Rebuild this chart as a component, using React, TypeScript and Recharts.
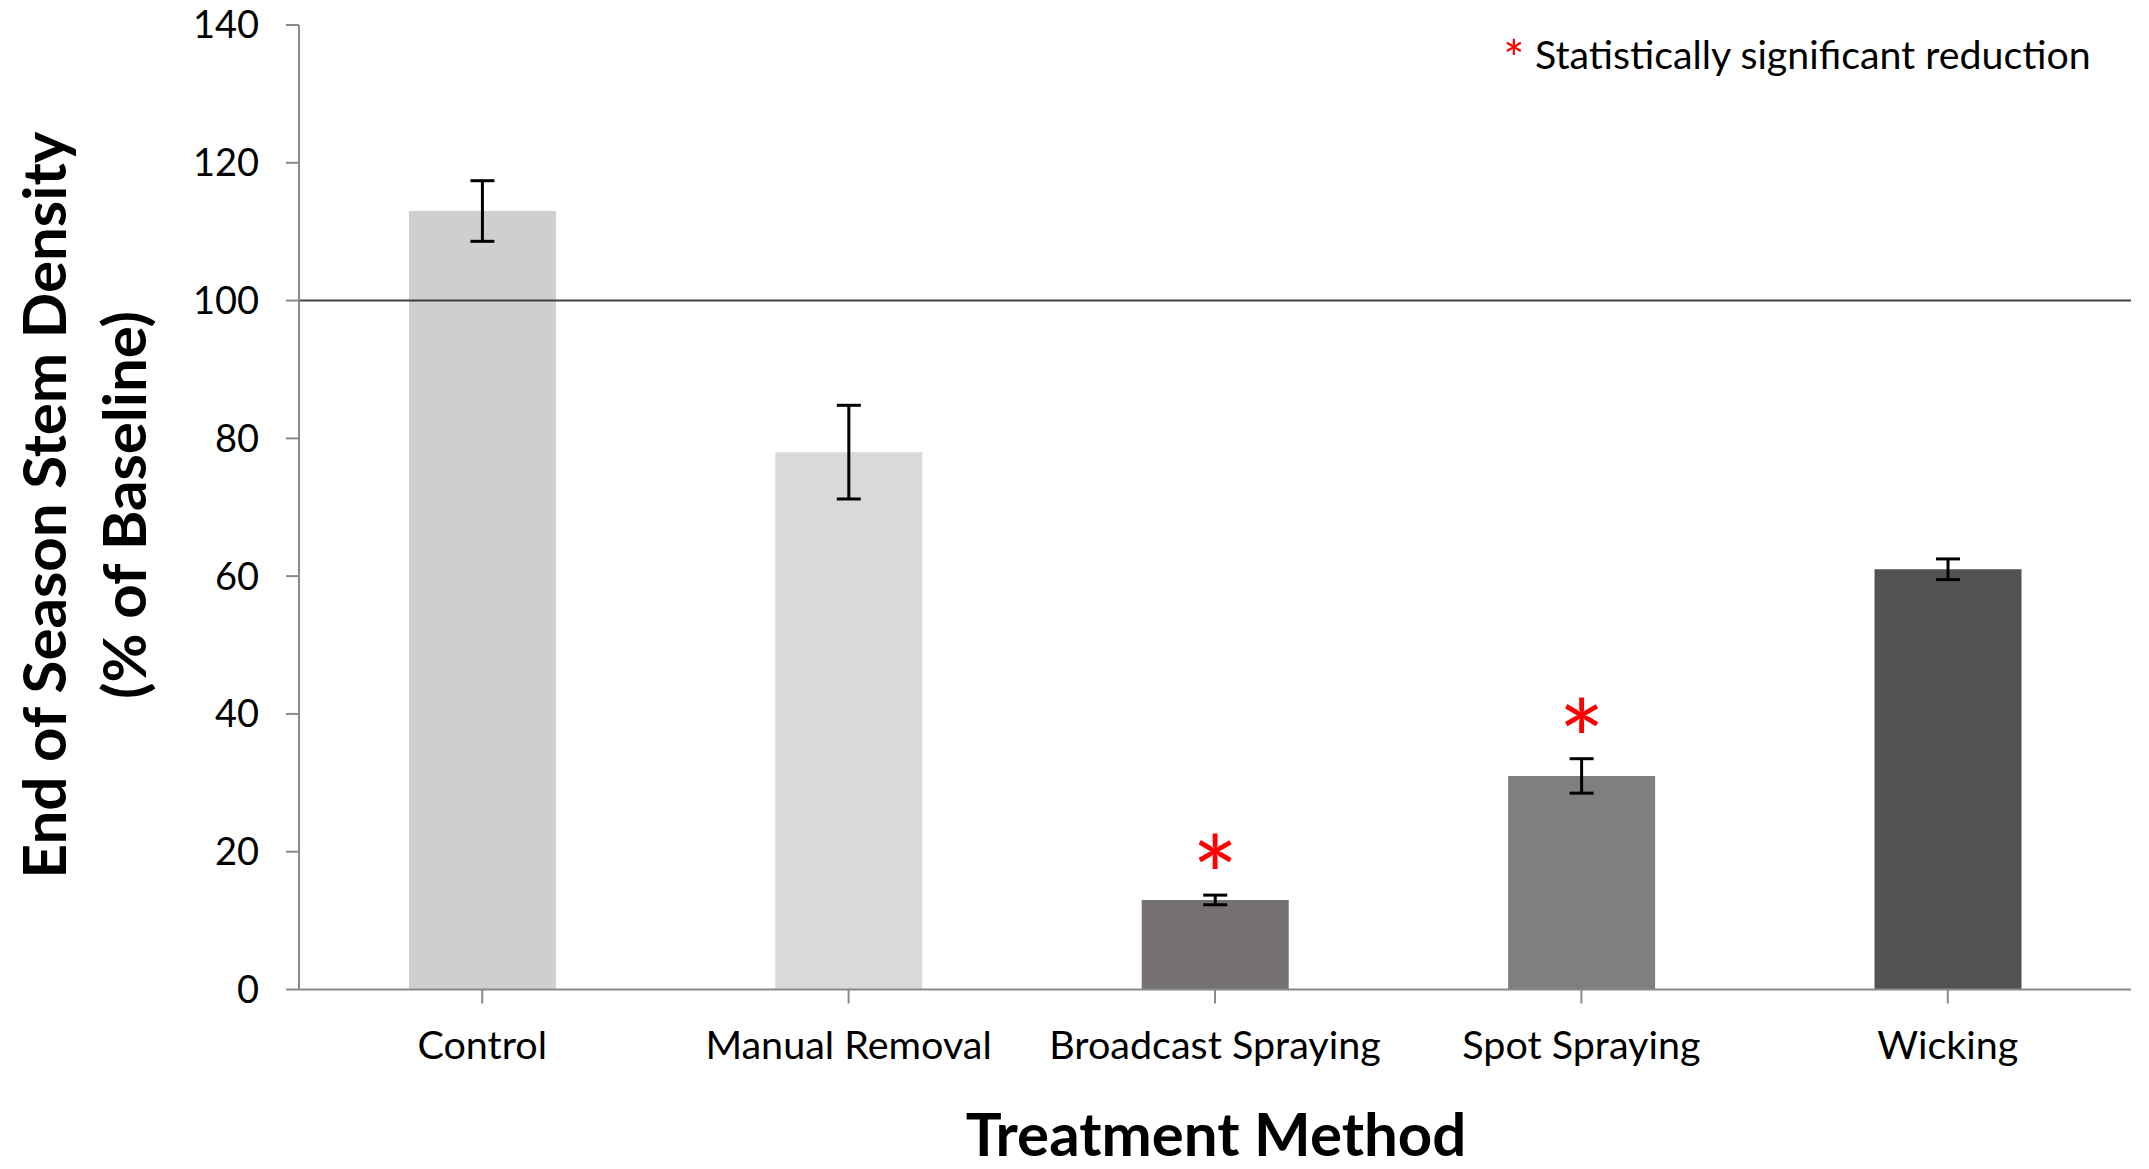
import React from 'react';
import { BarChart, Bar, XAxis, YAxis, Cell, ErrorBar, ReferenceLine, LabelList, Label } from 'recharts';

const categories = ['Control', 'Manual Removal', 'Broadcast Spraying', 'Spot Spraying', 'Wicking'];
const values = [113, 78, 13, 31, 61];
const errors = [4.4, 6.8, 0.7, 2.5, 1.5];
const significant = [false, false, true, true, false];
const barColors = ['#D0CECE', '#D9D9D9', '#767171', '#7F7F7F', '#525252'];
const yTicks = [0, 20, 40, 60, 80, 100, 120, 140];

const data = categories.map((name, i) => ({ name, value: values[i], err: errors[i], sig: significant[i] }));

const FONT = 'Lato, "Open Sans", sans-serif';
const AXIS_GRAY = '#8a8a8a';

const SigLabel = (props: any) => {
  const { x, y, width, height, index } = props;
  if (!significant[index]) return null;
  const pxPerUnit = height / values[index];
  const errTop = y - errors[index] * pxPerUnit;
  return (
    <text x={x + width / 2} y={errTop + 22} textAnchor="middle" fill="#FF0000" fontSize={110} fontFamily={FONT}>*</text>
  );
};

const Titles = () => (
  <g fontFamily={FONT}>
    <text x={66} y={505} transform="rotate(-90, 66, 505)" textAnchor="middle" fontSize={60} fontWeight={700} fill="#000">End of Season Stem Density</text>
    <text x={146} y={505} transform="rotate(-90, 146, 505)" textAnchor="middle" fontSize={60} fontWeight={700} fill="#000">(% of Baseline)</text>
    <text x={1216} y={1156} textAnchor="middle" fontSize={60} fontWeight={700} fill="#000">Treatment Method</text>
    <text x={1514} y={77} textAnchor="middle" fontSize={50} fill="#FF0000">*</text>
    <text x={1535} y={69} fontSize={39.3} fill="#000">Statistically significant reduction</text>
  </g>
);

export default function App() {
  return (
    <div style={{ position: 'fixed', left: 0, top: 0, width: 2149, height: 1169, background: '#fff' }}>
      <BarChart
        width={2149}
        height={1169}
        data={data}
        margin={{ top: 25, right: 18, bottom: 119.5, left: 99 }}
        barCategoryGap="30%"
      >
        <XAxis
          dataKey="name"
          height={60}
          stroke={AXIS_GRAY}
          strokeWidth={2}
          tickSize={14}
          tickMargin={27}
          tick={{ fill: '#000', fontSize: 39.5, fontFamily: FONT }}
          interval={0}
        />
        <YAxis
          width={200}
          domain={[0, 140]}
          ticks={yTicks}
          stroke={AXIS_GRAY}
          strokeWidth={2}
          tickSize={13}
          tickMargin={27}
          tick={{ fill: '#000', fontSize: 38, fontFamily: FONT }}
          allowDataOverflow
        >
          <Label content={() => <Titles />} />
        </YAxis>
        <ReferenceLine y={100} stroke="#404040" strokeWidth={2} />
        <Bar dataKey="value" isAnimationActive={false}>
          {data.map((d, i) => (
            <Cell key={d.name} fill={barColors[i]} />
          ))}
          <ErrorBar dataKey="err" width={12} strokeWidth={3} stroke="#000" direction="y" />
          <LabelList dataKey="value" content={SigLabel} />
        </Bar>
      </BarChart>
    </div>
  );
}
